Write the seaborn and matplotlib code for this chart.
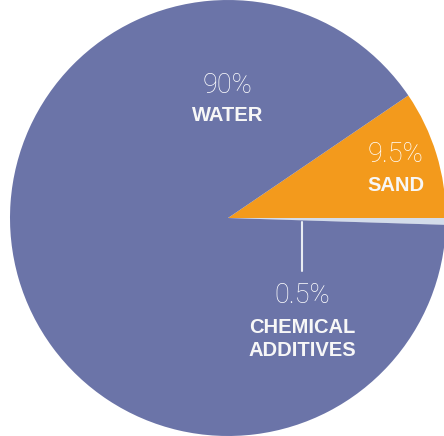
import seaborn as sns
import matplotlib.pyplot as plt

sns.set_style("white")

# share of fracking fluid
labels = ["CHEMICAL\nADDITIVES", "SAND", "WATER"]
shares = [0.5, 9.5, 90]
pct_text = ["0.5%", "9.5%", "90%"]
colors = ["#d3dcea", "#f39a1c", "#6b74a8"]

fig = plt.figure(figsize=(4.44, 4.36), dpi=100)
ax = fig.add_axes([0, 0, 1, 1])

start = -shares[0] / 100 * 360
ax.pie(shares, colors=colors, startangle=start, counterclock=True,
       radius=1, wedgeprops=dict(linewidth=0))

ax.set_xlim(-228 / 218, (444 - 228) / 218)
ax.set_ylim(-1, 1)
ax.set_aspect("equal")
ax.axis("off")

pct_font = dict(family="Roboto", fontweight="light", fontsize=19.5, color="white",
                ha="center", va="center")
lab_font = dict(family="Liberation Sans", fontweight="bold", fontsize=14.5, color="#f7f7f7",
                ha="center", va="center", linespacing=1.3)

# water
ax.text(0.0, 0.61, pct_text[2], **pct_font)
ax.text(0.0, 0.47, labels[2], **lab_font)
# sand
ax.text(0.77, 0.29, pct_text[1], **pct_font)
ax.text(0.77, 0.147, labels[1], **lab_font)
# chemical additives
ax.plot([0.34, 0.34], [-0.02, -0.245], color="#e8ecf2", lw=1.5)
ax.text(0.34, -0.355, pct_text[0], **pct_font)
ax.text(0.34, -0.555, labels[0], **lab_font)

fig.savefig("out.png", dpi=100)
